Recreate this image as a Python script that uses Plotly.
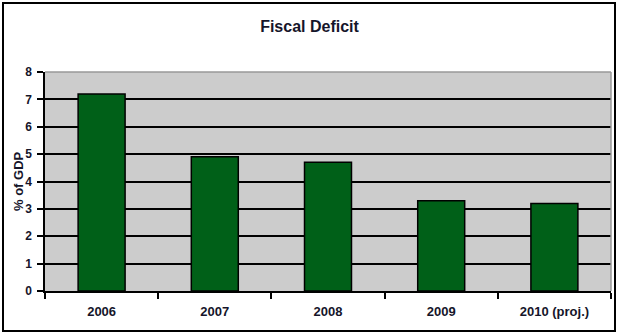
import plotly.graph_objects as go

categories = ["2006", "2007", "2008", "2009", "2010 (proj.)"]
deficit = [7.2, 4.9, 4.7, 3.3, 3.2]
y_ticks = [0, 1, 2, 3, 4, 5, 6, 7, 8]

FONT = "Liberation Sans, Arial, sans-serif"
TXT = "#15152a"

fig = go.Figure(
    go.Bar(
        x=categories,
        y=deficit,
        marker=dict(color="#006018", line=dict(color="#000000", width=1.5)),
        width=0.415,
    )
)

W, H = 619, 335
ml, mr, mt, mb = 45, 8, 72, 44
pw = W - ml - mr
ph = H - mt - mb

def px_x(p):
    return (p - ml) / pw

def px_y(p):
    return (H - mb - p) / ph

fig.update_layout(
    width=W,
    height=H,
    margin=dict(l=ml, r=mr, t=mt, b=mb, autoexpand=False),
    paper_bgcolor="white",
    plot_bgcolor="#cccccc",
    showlegend=False,
    bargap=0.585,
    title=dict(
        text="<b>Fiscal Deficit</b>",
        x=0.5,
        xref="container",
        y=1 - 26 / H,
        yref="container",
        yanchor="middle",
        font=dict(family=FONT, size=16, color=TXT),
    ),
    xaxis=dict(
        type="category",
        automargin=False,
        showline=True,
        linecolor="black",
        linewidth=1.5,
        ticks="outside",
        tickson="boundaries",
        ticklen=6,
        tickwidth=1.5,
        tickcolor="black",
        showgrid=False,
        ticklabelstandoff=8,
        tickfont=dict(family=FONT, size=13, color=TXT, weight="bold"),
    ),
    yaxis=dict(
        range=[0, 8],
        tickvals=y_ticks,
        automargin=False,
        showline=True,
        linecolor="black",
        linewidth=1.5,
        ticks="outside",
        ticklen=6,
        tickwidth=1.5,
        tickcolor="black",
        showgrid=True,
        gridcolor="black",
        gridwidth=1.5,
        zeroline=False,
        ticklabelstandoff=3,
        tickfont=dict(family=FONT, size=12, color=TXT, weight="bold"),
    ),
    annotations=[
        dict(
            text="<b>% of GDP</b>",
            xref="paper",
            yref="paper",
            x=px_x(9),
            y=0.5,
            textangle=-90,
            showarrow=False,
            font=dict(family=FONT, size=13, color=TXT),
        )
    ],
    shapes=[
        dict(type="line", xref="paper", yref="paper", x0=0, x1=1, y0=1, y1=1,
             line=dict(color="#999999", width=1.5), layer="above"),
        dict(type="line", xref="paper", yref="paper", x0=1, x1=1, y0=0, y1=1,
             line=dict(color="#999999", width=1.5), layer="above"),
        dict(type="rect", xref="paper", yref="paper",
             x0=px_x(3), x1=px_x(615), y0=px_y(331), y1=px_y(3),
             line=dict(color="black", width=2), fillcolor="rgba(0,0,0,0)"),
    ],
)

fig.write_html(
    "out.html",
    config={"displayModeBar": False},
    post_script="document.body.style.margin='0';document.body.style.padding='0';",
)
